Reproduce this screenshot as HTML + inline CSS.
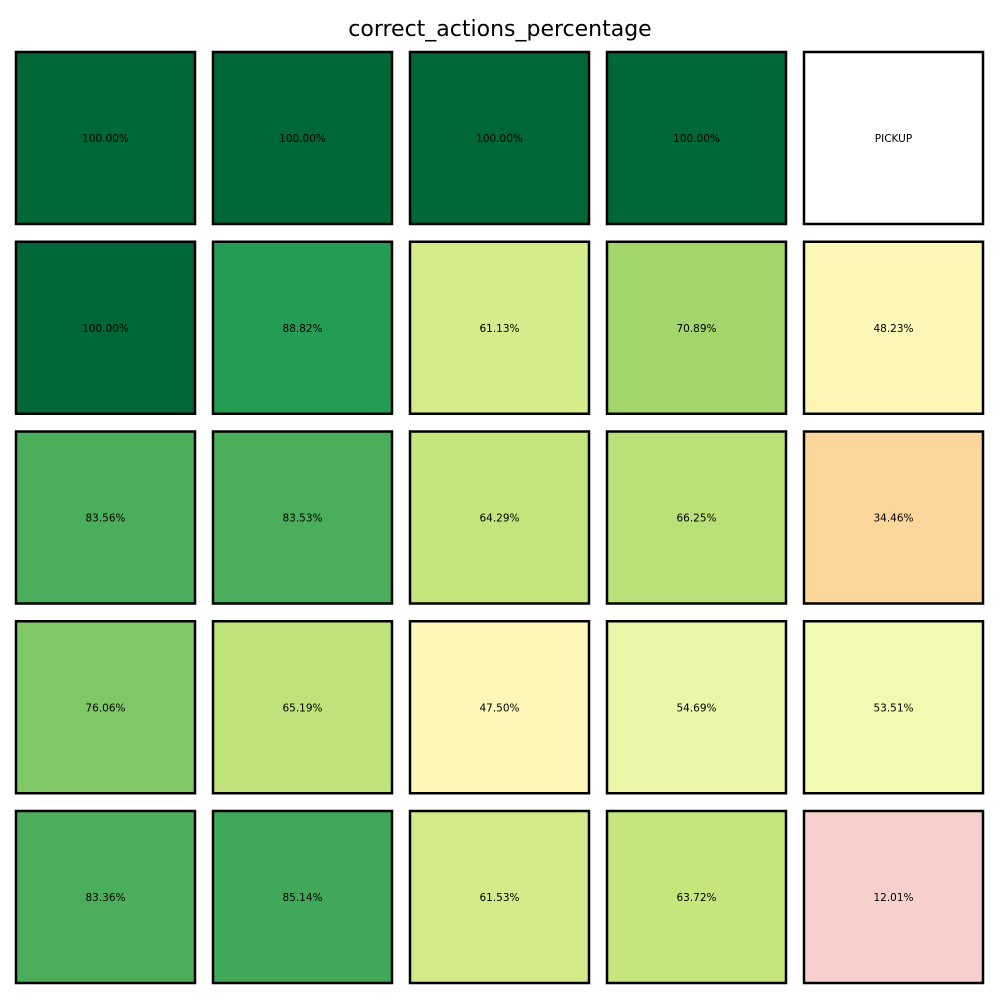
<!DOCTYPE html>
<html><head><meta charset="utf-8">
<style>
html,body{margin:0;padding:0;background:#fff;}
body{width:1000px;height:1000px;overflow:hidden;font-family:"Liberation Sans","DejaVu Sans",sans-serif;}
</style></head>
<body>
<svg id="chart" width="1000" height="1000" xmlns="http://www.w3.org/2000/svg">
<text x="500" y="36" text-anchor="middle" font-size="22" font-family="DejaVu Sans, Liberation Sans, sans-serif">correct_actions_percentage</text>
</svg>
<script>
const rowIdx = [0,0,0,0,0, 1,1,1,1,1, 2,2,2,2,2, 3,3,3,3,3, 4,4,4,4,4];
const colIdx = [0,1,2,3,4, 0,1,2,3,4, 0,1,2,3,4, 0,1,2,3,4, 0,1,2,3,4];
const values = [100,100,100,100,null, 100,88.82,61.13,70.89,48.23, 83.56,83.53,64.29,66.25,34.46, 76.06,65.19,47.50,54.69,53.51, 83.36,85.14,61.53,63.72,12.01];
const specialLabel = "PICKUP";
// colour scale stops (value -> colour)
const stopVals = [12, 34.46, 47.5, 53.5, 54.7, 61.1, 63.7, 65.2, 66.25, 70.9, 76.06, 83.5, 85.14, 88.82, 100];
const stopCols = ["#f5d0cc","#fdd69c","#fef7b8","#f2f9b0","#ecf6a8","#d4ec8a","#c5e67d","#bfe37a","#bae178","#a2d56a","#80c865","#4bae5b","#41a85a","#249c54","#006837"];

function hex(c){return [1,3,5].map(i=>parseInt(c.substr(i,2),16));}
function colorFor(v){
  if(v===null) return "#ffffff";
  if(v<=stopVals[0]) return stopCols[0];
  for(let i=1;i<stopVals.length;i++){
    if(v<=stopVals[i]){
      const t=(v-stopVals[i-1])/(stopVals[i]-stopVals[i-1]);
      const a=hex(stopCols[i-1]), b=hex(stopCols[i]);
      return "rgb("+a.map((x,k)=>Math.round(x+(b[k]-x)*t)).join(",")+")";
    }
  }
  return stopCols[stopCols.length-1];
}
const x0=16, pitchX=197, cw=179;
const y0=52, pitchY=189.75, ch=172;
function xPos(c){return x0+c*pitchX;}
function yPos(r){return y0+r*pitchY;}
const svg=document.getElementById('chart');
const NS="http://www.w3.org/2000/svg";
for(let i=0;i<values.length;i++){
  const r=rowIdx[i], c=colIdx[i], v=values[i];
  const rect=document.createElementNS(NS,'rect');
  
  
  rect.setAttribute('x',xPos(c)); rect.setAttribute('y',yPos(r));
  rect.setAttribute('width',cw); rect.setAttribute('height',ch);
  rect.setAttribute('fill',colorFor(v));
  rect.setAttribute('stroke','#000'); rect.setAttribute('stroke-width','2.5');
  svg.appendChild(rect);
  const t=document.createElementNS(NS,'text');
  
  
  t.setAttribute('x',xPos(c)+cw/2); t.setAttribute('y',yPos(r)+ch/2+4);
  t.setAttribute('text-anchor','middle'); t.setAttribute('font-size','10.5');
  t.setAttribute('font-family','DejaVu Sans, Liberation Sans, sans-serif');
  t.textContent = v===null ? specialLabel : v.toFixed(2)+"%";
  svg.appendChild(t);
}
</script>
</body></html>
